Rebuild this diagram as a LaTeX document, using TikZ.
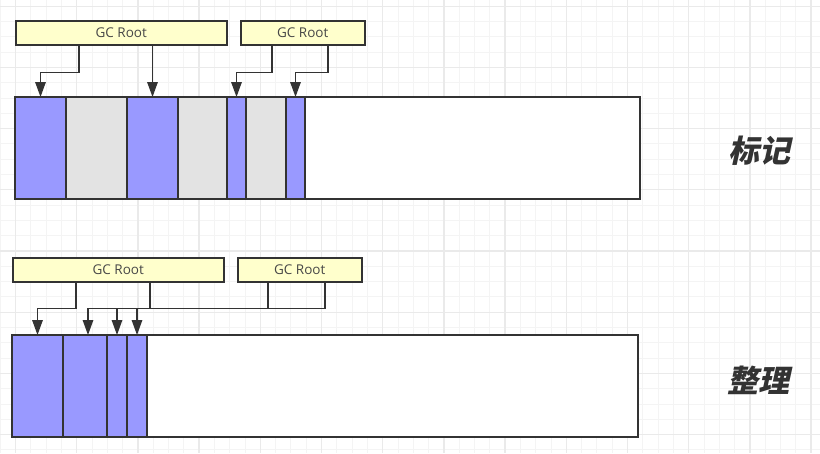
\documentclass[tikz,border=0pt]{standalone}
\usepackage{fontspec}
\setmainfont{Open Sans}
\newfontfamily\cjk[FakeSlant=0.22,BoldFeatures={FakeSlant=0.22}]{Noto Sans CJK SC}
\usepackage{tikz}
\usetikzlibrary{positioning,arrows.meta}
\definecolor{liveblue}{RGB}{153,153,255}
\definecolor{deadgray}{RGB}{227,227,227}
\definecolor{rootyellow}{RGB}{255,255,204}
\definecolor{inkgray}{RGB}{51,51,51}
\definecolor{gridminor}{RGB}{244,244,244}
\definecolor{gridmajor}{RGB}{234,234,234}
\tikzset{
  cell/.style  = {draw=inkgray, line width=1.5pt, inner sep=0pt, outer sep=0pt, minimum height=102pt},
  live/.style  = {cell, fill=liveblue},
  dead/.style  = {cell, fill=deadgray},
  free/.style  = {cell, fill=white},
  root/.style  = {draw=inkgray, line width=1.5pt, fill=rootyellow, inner sep=0pt, minimum height=24pt,
                  font=\fontsize{13.5}{15}\selectfont, text=inkgray!90},
  link/.style  = {draw=inkgray, line width=1.5pt},
  flow/.style  = {link, -{Triangle[length=15pt,width=10.5pt]}},
  phase/.style = {font=\cjk\bfseries\fontsize{31}{36}\selectfont, text=inkgray},
}

\begin{document}
\begin{tikzpicture}[x=1pt, y=-1pt]
  \fill[white] (0,0) rectangle (820,453);
  \useasboundingbox (0,0) rectangle (820,453);
  % background grid
  \foreach \k in {0,...,53} \draw[gridminor, line width=1pt] (0.2+15.3*\k,0) -- (0.2+15.3*\k,453);
  \foreach \k in {0,...,29} \draw[gridminor, line width=1pt] (0,6.2+15.3*\k) -- (820,6.2+15.3*\k);
  \foreach \k in {0,...,13} \draw[gridmajor, line width=1.3pt] (15.5+61.2*\k,0) -- (15.5+61.2*\k,453);
  \foreach \k in {0,...,7} \draw[gridmajor, line width=1.3pt] (0,6.2+61.2*\k) -- (820,6.2+61.2*\k);

  % mark phase
  \node[root, minimum width=211pt, anchor=north west] (r1) at (15,20) {GC Root};
  \node[root, minimum width=124pt, anchor=north west] (r2) at (240,20) {GC Root};
  \node[live, minimum width=51pt, anchor=north west] (a) at (15,97) {};
  \node[dead, minimum width=61pt, right=0pt of a] (b) {};
  \node[live, minimum width=51pt, right=0pt of b] (c) {};
  \node[dead, minimum width=49pt, right=0pt of c] (d) {};
  \node[live, minimum width=19pt, right=0pt of d] (e) {};
  \node[dead, minimum width=40pt, right=0pt of e] (f) {};
  \node[live, minimum width=19pt, right=0pt of f] (g) {};
  \node[free, minimum width=335pt, right=0pt of g] (h) {};
  \draw[flow] (r1.south -| 79,0) -- ++(0,27) -| (a.north);
  \draw[flow] (r1.south -| c.north) -- (c.north);
  \draw[flow] (r2.south -| 272,0) -- ++(0,27) -| (e.north);
  \draw[flow] (r2.south -| 328,0) -- ++(0,27) -| (g.north);
  \node[phase] (mark) at (759,151) {标记};

  % compact phase
  \node[root, minimum width=211pt, anchor=north west] (r3) at (12,257) {GC Root};
  \node[root, minimum width=124pt, anchor=north west] (r4) at (237,257) {GC Root};
  \node[live, minimum width=51pt, anchor=north west] (ca) at (12,335) {};
  \node[live, minimum width=44pt, right=0pt of ca] (cb) {};
  \node[live, minimum width=20pt, right=0pt of cb] (cc) {};
  \node[live, minimum width=20pt, right=0pt of cc] (cd) {};
  \node[free, minimum width=491pt, right=0pt of cd] (ce) {};
  \draw[flow] (r3.south -| 76,0) -- ++(0,26) -| (ca.north);
  \draw[link] (r3.south -| 150,0) -- ++(0,26) coordinate (bus);
  \draw[link] (r4.south -| 268,0) -- ++(0,26);
  \draw[link] (r4.south -| 325,0) |- (bus);
  \draw[flow] (bus) -| ([xshift=3pt]cb.north);
  \draw[flow] (cc.north |- bus) -- (cc.north);
  \draw[flow] (cd.north |- bus) -- (cd.north);
  \node[phase] (compact) at (758,380) {整理};
\end{tikzpicture}
\end{document}
